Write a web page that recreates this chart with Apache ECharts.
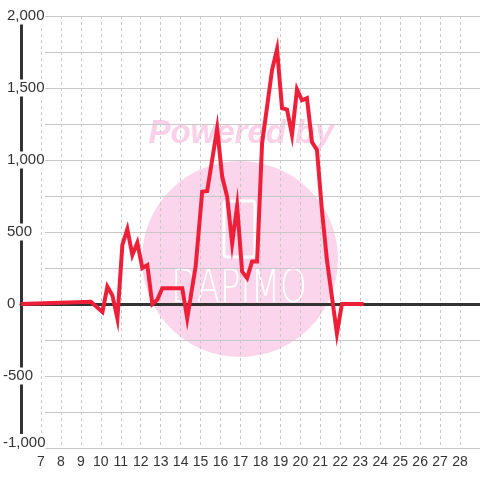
<!DOCTYPE html>
<html>
<head>
<meta charset="utf-8">
<script src="https://cdn.jsdelivr.net/npm/echarts@6/dist/echarts.min.js"></script>
<style>
  html, body { margin: 0; padding: 0; background: #fff; }
  #main { width: 480px; height: 480px; }
</style>
</head>
<body>
<div id="main"></div>
<script>
// day of month (x) and value (y) where the line bends
var days = [6, 9.5, 10.08, 10.33, 10.58, 10.83, 11.08, 11.33, 11.58, 11.83, 12.08, 12.33, 12.58, 12.83, 13.08, 14.08,
    14.33, 14.75, 15.08, 15.33, 15.83, 16.08, 16.33, 16.58, 16.83, 17.08, 17.33, 17.58, 17.83, 18.08,
    18.58, 18.83, 19.08, 19.33, 19.58, 19.83, 20.08, 20.33, 20.58, 20.83, 21.08, 21.33, 21.83, 22.08, 23.17];
var values = [0, 15, -55, 120, 60, -100, 410, 520, 340, 425, 250, 270, 0, 30, 110, 110,
    -100, 260, 780, 785, 1220, 885, 745, 420, 680, 225, 180, 295, 295, 1115,
    1625, 1770, 1360, 1350, 1175, 1490, 1415, 1430, 1125, 1070, 650, 305, -205, 0, 0];
var yMin = -1000, yMax = 2000;
var xMin = 6, xMax = 29;

var points = days.map(function (d, i) { return [d, values[i]]; });

var dom = document.getElementById('main');
var myChart = echarts.init(dom);
myChart.setOption({
    animation: false,
    graphic: [
        {
            type: 'circle', z: -10, silent: true,
            shape: { cx: 240, cy: 259, r: 98 },
            style: { fill: '#fbd5eb' }
        },
        {
            type: 'text', z: -10, silent: true,
            x: 241, y: 134,
            style: {
                text: 'Powered by', fill: '#fbd0e8',
                font: 'italic bold 33px "Liberation Sans"',
                align: 'center', verticalAlign: 'middle'
            }
        },
        {
            type: 'rect', z: -9, silent: true,
            shape: { x: 224, y: 201, width: 31, height: 56, r: 3 },
            style: { fill: 'none', stroke: '#fff', lineWidth: 3 }
        },
        {
            type: 'text', z: -9, silent: true,
            x: 239, y: 290, scaleY: 1.35,
            style: {
                text: 'DAPIMO', fill: '#fff',
                font: '200 34px "DejaVu Sans"',
                align: 'center', verticalAlign: 'middle'
            }
        }
    ],
    grid: [
        { left: 20, right: 0, top: 16, bottom: 32 },
        { left: 45, right: 0, top: 16, bottom: 32 }
    ],
    xAxis: [
        {
            gridIndex: 0, type: 'value', min: xMin, max: xMax, interval: 1,
            axisLine: { show: false, onZero: false },
            axisTick: { show: false },
            axisLabel: {
                showMinLabel: false, showMaxLabel: false, margin: 7,
                color: '#333', fontSize: 14, fontFamily: 'Liberation Sans'
            },
            splitLine: { show: true, lineStyle: { color: '#c8c8c8', type: [3, 3], width: 1 } }
        },
        {
            gridIndex: 0, type: 'value', min: xMin, max: xMax, position: 'top',
            axisLine: { show: true, onZero: true, onZeroAxisIndex: 0, lineStyle: { color: '#333', width: 3 } },
            axisTick: { show: false },
            axisLabel: { show: false },
            splitLine: { show: false }
        },
        {
            gridIndex: 1, type: 'value', min: 0, max: 1, show: false
        }
    ],
    yAxis: [
        {
            gridIndex: 0, type: 'value', min: yMin, max: yMax, interval: 500,
            axisLine: { show: true, onZero: false, lineStyle: { color: '#333', width: 3 } },
            axisTick: { show: false },
            axisLabel: {
                align: 'left', margin: 18, color: '#333', fontSize: 15,
                fontFamily: 'Liberation Sans',
                formatter: function (v) {
                    var s = v.toLocaleString('en-US');
                    if (v === yMin) return '{t|' + s + '}\n{e| }';
                    return v < 0 ? '{t|' + s + '}' : '{s|}{t|' + s + '}';
                },
                rich: {
                    s: { width: 4, height: 17, backgroundColor: '#fff' },
                    t: { height: 17, backgroundColor: '#fff', fontSize: 15, fontFamily: 'Liberation Sans', color: '#333' },
                    e: { height: 11, fontSize: 2 }
                }
            },
            splitLine: { show: false },
            z: 3
        },
        {
            gridIndex: 1, type: 'value', min: yMin, max: yMax, interval: 250,
            axisLine: { show: false },
            axisTick: { show: false },
            axisLabel: { show: false },
            splitLine: { show: true, lineStyle: { color: '#c8c8c8', width: 1 } }
        }
    ],
    series: [{
        name: 'value',
        type: 'line',
        xAxisIndex: 0,
        yAxisIndex: 0,
        data: points,
        symbol: 'none',
        smooth: false,
        z: 5,
        lineStyle: { color: '#ee1f38', width: 4, join: 'miter' }
    }]
});
window.addEventListener('resize', function () {
    myChart.resize();
});
</script>
</body>
</html>
